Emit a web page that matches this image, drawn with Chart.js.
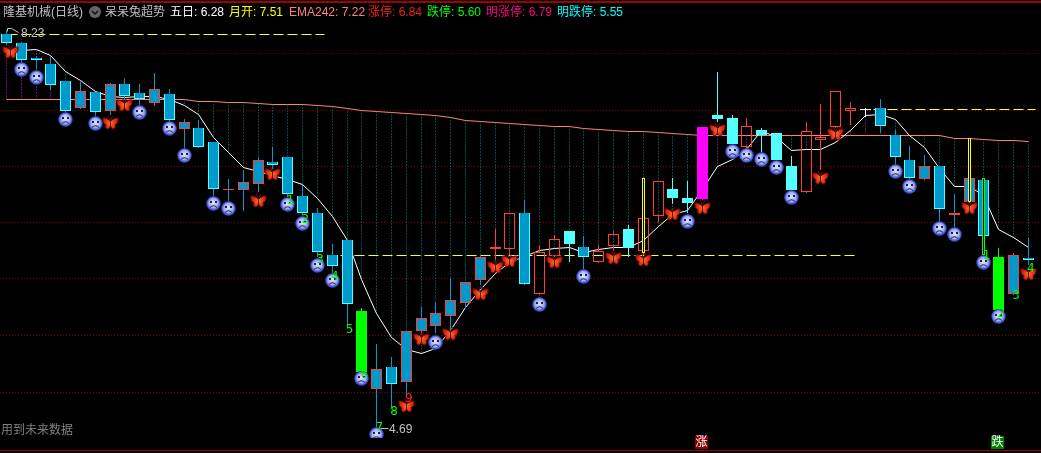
<!DOCTYPE html>
<html>
<head>
<meta charset="utf-8">
<title>隆基机械(日线)</title>
<script src="https://cdn.jsdelivr.net/npm/chart.js@4/dist/chart.umd.min.js"></script>
<style>
  html, body { margin: 0; padding: 0; background: #000; overflow: hidden; }
  #wrap { position: relative; width: 1041px; height: 453px; overflow: hidden; font: 12px "Liberation Sans", "Noto Sans CJK SC", sans-serif; }
  #kline { position: absolute; left: 0; top: 0; }
  .rule { position: absolute; left: 0; width: 1041px; background: #a00000; }
  .txt { position: absolute; white-space: nowrap; line-height: 14px; }
  .tag { position: absolute; width: 13px; height: 13px; line-height: 13px; text-align: center; color: #fff; }
</style>
</head>
<body>
<div id="wrap">
  <canvas id="kline" width="1041" height="453"></canvas>
  <div class="rule" style="top:1px;height:2px"></div>
  <div class="rule" style="top:450px;height:1px"></div>
  <span class="txt" style="left:3px;top:5px;color:#c0c0c0">隆基机械(日线)</span>
  <svg style="position:absolute;left:89px;top:6px" width="12" height="12"><circle cx="6" cy="6" r="6" fill="#666"/><path d="M3 5 L6 8 L9 5" stroke="#111" stroke-width="1.5" fill="none"/></svg>
  <span class="txt" style="left:105px;top:5px;color:#c0c0c0">呆呆兔超势</span>
  <span class="txt" style="left:170px;top:5px;color:#fff">五日: 6.28</span>
  <span class="txt" style="left:229px;top:5px;color:#ff0">月开: 7.51</span>
  <span class="txt" style="left:289px;top:5px;color:#ff8080">EMA242: 7.22</span>
  <span class="txt" style="left:368px;top:5px;color:#f02020">涨停: 6.84</span>
  <span class="txt" style="left:427px;top:5px;color:#0f0">跌停: 5.60</span>
  <span class="txt" style="left:486px;top:5px;color:#ff0080">明涨停: 6.79</span>
  <span class="txt" style="left:557px;top:5px;color:#0ff">明跌停: 5.55</span>
  <span class="txt" style="left:1px;top:423px;color:#808080">用到未来数据</span>
  <span class="tag" style="left:695px;top:436px;background:#8b0000">涨</span>
  <span class="tag" style="left:991px;top:436px;background:#008000">跌</span>
</div>
<script>
// candle kinds, one for each trading day
const kinds = [
  'blue','blue','blue','blue','blue','blueRed','blue','blueRed','blue','blue',
  'blueRed','blue','blueRed','blue','blue','blueRed','blueRed','blueRed','blue','blue',
  'blue','blue','blue','blue','green','blueRed','blue','blueRed','blueRed','blueRed',
  'blueRed','blueRed','blueRed','hollow','hollow','blue','hollow','hollow','cyan','blue',
  'hollow','hollow','cyan','hollow','hollow','cyan','cyan','magenta','cyan','cyan',
  'hollow','cyan','cyan','cyan','hollow','hollow','hollow','hollow','white','blue',
  'blue','blue','blueRed','blue','blueRed','blueRed','blue','green','blueRed','blue'
];
const bodyTops = [
  8.20,8.12,7.98,7.93,7.78,7.69,7.68,7.75,7.75,7.67,
  7.71,7.66,7.41,7.36,7.24,6.82,6.88,7.08,7.06,7.10,
  6.76,6.60,6.23,6.36,5.73,5.22,5.23,5.55,5.67,5.71,
  5.83,5.99,6.21,6.30,6.60,6.60,6.26,6.37,6.44,6.30,
  6.27,6.42,6.46,6.56,6.89,6.82,6.74,7.37,7.48,7.45,
  7.38,7.34,7.32,7.02,7.33,7.28,7.69,7.54,7.53,7.54,
  7.30,7.08,7.02,7.02,6.60,6.92,6.90,6.21,6.23,6.20
];
const bodyBottoms = [
  8.12,7.97,7.97,7.74,7.51,7.54,7.50,7.51,7.65,7.62,
  7.58,7.43,7.35,7.19,6.82,6.81,6.81,6.86,7.03,6.77,
  6.60,6.26,6.13,5.79,5.19,5.04,5.08,5.10,5.55,5.60,
  5.69,5.80,6.01,6.28,6.28,5.97,5.88,6.22,6.33,6.21,
  6.17,6.31,6.29,6.27,6.58,6.74,6.69,6.73,7.44,7.22,
  7.19,7.30,7.08,6.81,6.79,7.25,7.37,7.51,7.52,7.38,
  7.10,6.92,6.91,6.64,6.59,6.70,6.40,5.74,5.88,6.19
];
const highs = [
  8.23,8.13,8.00,8.00,7.78,7.77,7.68,7.76,7.81,7.75,
  7.85,7.71,7.44,7.43,7.24,6.91,6.99,7.10,7.19,7.10,
  6.85,6.65,6.33,6.36,5.76,5.44,5.32,5.55,5.77,5.80,
  6.03,5.99,6.23,6.46,6.60,6.72,6.32,6.41,6.44,6.40,
  6.32,6.44,6.50,6.56,6.89,6.92,6.89,7.37,7.86,7.48,
  7.45,7.36,7.32,7.11,7.41,7.57,7.69,7.59,7.54,7.62,
  7.34,7.20,7.12,7.02,6.77,6.92,6.90,6.29,6.25,6.38
];
const lows = [
  8.10,7.95,7.89,7.70,7.51,7.54,7.47,7.48,7.61,7.56,
  7.56,7.41,7.18,7.19,6.76,6.70,6.62,6.79,7.00,6.75,
  6.59,6.21,6.07,5.59,5.19,4.69,4.87,4.96,5.54,5.54,
  5.56,5.76,5.96,6.19,6.23,5.97,5.88,6.22,6.17,6.11,
  6.17,6.27,6.21,6.23,6.52,6.68,6.60,6.73,7.41,7.22,
  7.19,7.15,7.08,6.81,6.79,6.99,7.37,7.39,7.46,7.32,
  7.04,6.92,6.91,6.53,6.48,6.70,6.40,5.74,5.88,6.14
];
const ma5 = [
  null,8.05,8.06,8.01,7.86,7.78,7.69,7.64,7.63,7.64,
  7.64,7.61,7.56,7.48,7.28,7.14,7.01,6.97,6.94,6.90,
  6.86,6.73,6.57,6.36,6.01,5.71,5.50,5.39,5.35,5.40,
  5.56,5.76,5.92,6.07,6.16,6.22,6.27,6.29,6.30,6.25,
  6.28,6.30,6.30,6.36,6.48,6.59,6.63,6.81,7.02,7.08,
  7.17,7.34,7.28,7.16,7.17,7.17,7.23,7.34,7.47,7.48,
  7.44,7.29,7.19,7.00,6.84,6.84,6.76,6.46,6.39,6.30
];
const ema242 = [
  7.61,7.61,7.61,7.61,7.61,7.61,7.61,7.61,7.61,7.61,
  7.61,7.61,7.61,7.60,7.60,7.59,7.59,7.58,7.57,7.57,
  7.57,7.56,7.55,7.53,7.52,7.51,7.50,7.49,7.48,7.47,
  7.45,7.43,7.42,7.41,7.40,7.39,7.38,7.37,7.37,7.36,
  7.35,7.34,7.33,7.33,7.32,7.31,7.30,7.29,7.29,7.29,
  7.29,7.29,7.29,7.29,7.29,7.29,7.29,7.29,7.29,7.29,
  7.29,7.29,7.29,7.29,7.27,7.27,7.26,7.25,7.25,7.24
];

// signal icons
const faceDays = [1,2,4,6,9,11,12,14,15,19,20,21,22,24,25,29,36,39,46,49,50,51,52,53,60,61,63,64,66,67];
const facePrices = [7.88,7.81,7.44,7.40,7.50,7.36,7.12,6.69,6.64,6.68,6.51,6.14,6.00,5.13,4.63,5.45,5.79,6.04,6.53,7.15,7.12,7.08,7.01,6.74,6.97,6.84,6.47,6.41,6.16,5.68];
const flyDays = [0.27,7,8,17,18,27,28,30,32,33,34,37,41,43,45,47,48,55,56,65,69];
const flyPrices = [8.04,7.41,7.57,6.72,6.96,4.89,5.49,5.53,5.89,6.13,6.18,6.17,6.21,6.19,6.60,6.65,7.35,6.92,7.31,6.65,6.07];

// countdown digits under the candles
const digitDays = [19,20,21,22,23,24,25,26,27,66,67,68,69];
const digitTexts = ['1','2','3','4','5','6','7','8','9','1','2','3','4'];
const digitPrices = [6.71,6.54,6.19,6.04,5.56,5.16,4.69,4.83,4.95,6.22,5.71,5.87,6.11];

// narrow outlined bars
const yellowDays = [43,65];
const yellowTops = [6.92,7.27];
const yellowBottoms = [6.25,6.70];
const limeDays = [66];
const limeTops = [6.92];
const limeBottoms = [6.23];

// dashed price levels
const levelPrices = [8.19,6.23,7.525];
const levelStarts = [0.07,22.55,58.54];
const levelEnds = [21.47,57.46,69.48];

const gridPrices = [8.02,7.52,7.02,6.52,6.02,5.51,5.01];

const highLabel = '8.23';
const lowLabel = '4.69';

const DAY_MIN = -0.405, DAY_MAX = 69.885;
const PRICE_MIN = 4.4683, PRICE_MAX = 8.5;

const BLUE = '#0099cc', CYAN = '#54ffff', RED = '#ff3c3c';
const bodyFill = { blue: BLUE, blueRed: BLUE, cyan: CYAN, hollow: 'rgba(0,0,0,0)', magenta: '#ff00ff', green: '#00ff00', white: '#fff' };
const bodyLine = { blue: CYAN, blueRed: RED, cyan: CYAN, hollow: RED, magenta: '#ff00ff', green: '#00ff00', white: '#fff' };
const wickLine = { blue: BLUE, blueRed: BLUE, cyan: CYAN, hollow: RED, magenta: '#ff00ff', green: '#00ff00', white: '#fff' };
const upKinds = ['blueRed', 'hollow', 'magenta'];

function faceIcon() {
  let c = document.createElement('canvas');
  c.width = 15; c.height = 15;
  let g = c.getContext('2d');
  let r = g.createRadialGradient(7.5, 6.5, 1, 7.5, 7.5, 7.5);
  r.addColorStop(0, '#d8dcff');
  r.addColorStop(0.55, '#a0acf4');
  r.addColorStop(0.85, '#4050c8');
  r.addColorStop(1, '#18246c');
  g.fillStyle = r;
  g.beginPath(); g.arc(7.5, 7.5, 7.4, 0, Math.PI * 2); g.fill();
  g.fillStyle = '#1a2050';
  g.fillRect(4, 5, 2, 2);
  g.fillRect(9, 5, 2, 2);
  g.strokeStyle = '#1a2050';
  g.lineWidth = 1;
  g.beginPath(); g.moveTo(4, 11.5); g.quadraticCurveTo(7.5, 8, 11, 11.5); g.stroke();
  return c;
}

function flyIcon() {
  let c = document.createElement('canvas');
  c.width = 17; c.height = 15;
  let g = c.getContext('2d');
  let r = g.createRadialGradient(8.5, 8, 1, 8.5, 8, 9);
  r.addColorStop(0, '#f06828');
  r.addColorStop(0.55, '#e02c10');
  r.addColorStop(1, '#b01408');
  g.fillStyle = r;
  g.strokeStyle = '#700c04';
  g.lineWidth = 1;
  g.beginPath();
  g.moveTo(8.5, 6);
  g.bezierCurveTo(6, 4, 3, 2.5, 1, 3);
  g.bezierCurveTo(0.5, 6, 1.5, 9, 4, 9.5);
  g.bezierCurveTo(3, 12, 4, 14, 6, 14);
  g.bezierCurveTo(7.5, 13.5, 8, 12, 8.5, 10.5);
  g.bezierCurveTo(9, 12, 9.5, 13.5, 11, 14);
  g.bezierCurveTo(13, 14, 14, 12, 13, 9.5);
  g.bezierCurveTo(15.5, 9, 16.5, 6, 16, 3);
  g.bezierCurveTo(14, 2.5, 11, 4, 8.5, 6);
  g.closePath();
  g.fill();
  g.stroke();
  g.beginPath();
  g.moveTo(8.5, 11); g.lineTo(8.5, 6); g.lineTo(6.5, 1);
  g.moveTo(8.5, 6); g.lineTo(10.5, 1);
  g.stroke();
  return c;
}

function dayPoints(values) {
  return values.map(function(v, i) { return { x: i, y: v }; });
}

function pairPoints(days, values) {
  return days.map(function(d, i) { return { x: d, y: values[i] }; });
}

function rangePoints(days, tops, bottoms) {
  return days.map(function(d, i) { return { x: d, y: [bottoms[i], tops[i]] }; });
}

// ema to ma5 drop lines, split by close above or below the ema
function dropPoints(above) {
  let pts = [];
  kinds.forEach(function(k, i) {
    let close = upKinds.includes(k) ? bodyTops[i] : bodyBottoms[i];
    if ((close > ema242[i]) !== above) return;
    pts.push({ x: i, y: ema242[i] });
    pts.push({ x: i, y: ma5[i] === null ? lows[i] : ma5[i] });
    pts.push({ x: i, y: null });
  });
  return pts;
}

function levelDataset(n) {
  return {
    type: 'line', order: 5, borderColor: '#ffff30', borderWidth: 1, borderDash: [10, 4], pointRadius: 0,
    data: [{ x: levelStarts[n], y: levelPrices[n] }, { x: levelEnds[n], y: levelPrices[n] }]
  };
}

function narrowDataset(days, tops, bottoms, color) {
  return {
    type: 'bar', order: 2, barThickness: 3, borderWidth: 1, borderSkipped: false, inflateAmount: 0, grouped: false,
    borderColor: color, backgroundColor: '#000',
    data: rangePoints(days, tops, bottoms)
  };
}

// keep candles on whole pixels as the terminal draws them
const snapPlugin = {
  id: 'snap',
  afterDatasetsUpdate: function(chart) {
    chart.getSortedVisibleDatasetMetas().forEach(function(meta) {
      meta.data.forEach(function(el) {
        el.x = Math.floor(el.x + 0.4) + 0.5;
        if (meta.type === 'bar') {
          el.y = Math.round(el.y);
          el.base = Math.round(el.base);
          if (el.base === el.y) el.base = el.y + 1;
        } else {
          el.y = Math.floor(el.y) + 0.5;
        }
      });
    });
  }
};

const labelPlugin = {
  id: 'labels',
  afterDatasetsDraw: function(chart) {
    let g = chart.ctx, xs = chart.scales.x, ys = chart.scales.y;
    g.save();
    g.font = '12px "DejaVu Sans"';
    g.textAlign = 'center';
    g.textBaseline = 'middle';
    digitDays.forEach(function(d, i) {
      g.fillStyle = digitTexts[i] === '9' ? '#ff2020' : '#00ff00';
      g.fillText(digitTexts[i], xs.getPixelForValue(d) + 3, ys.getPixelForValue(digitPrices[i]));
    });
    g.font = '12px "Liberation Sans"';
    g.textAlign = 'left';
    g.fillStyle = '#c0c0c0';
    g.fillText(highLabel, xs.getPixelForValue(0.81) + 3, ys.getPixelForValue(8.2));
    g.fillText(lowLabel, xs.getPixelForValue(25.79) + 1, ys.getPixelForValue(4.68));
    g.restore();
  }
};

new Chart(document.getElementById('kline'), {
  type: 'bar',
  data: {
    datasets: [
      { type: 'line', order: 1, showLine: false, pointStyle: faceIcon(), pointRadius: 7, clip: { left: 0, top: 0, right: 0, bottom: -15 }, data: pairPoints(faceDays, facePrices) },
      { type: 'line', order: 1, showLine: false, pointStyle: flyIcon(), pointRadius: 7, data: pairPoints(flyDays, flyPrices) },
      narrowDataset(yellowDays, yellowTops, yellowBottoms, '#ffff00'),
      narrowDataset(limeDays, limeTops, limeBottoms, '#00ff00'),
      {
        type: 'bar', order: 3, barThickness: 11, borderSkipped: false, inflateAmount: 0, grouped: false,
        backgroundColor: kinds.map(function(k) { return bodyFill[k]; }),
        borderColor: kinds.map(function(k) { return bodyLine[k]; }),
        borderWidth: function(ctx) {
          return kinds[ctx.dataIndex] === 'blue' ? { left: 1, right: 1, bottom: 1, top: 0 } : 1;
        },
        data: rangePoints(kinds.map(function(k, i) { return i; }), bodyTops, bodyBottoms)
      },
      {
        type: 'bar', order: 4, barThickness: 1, borderWidth: 0, inflateAmount: 0, grouped: false,
        backgroundColor: kinds.map(function(k) { return wickLine[k]; }),
        data: rangePoints(kinds.map(function(k, i) { return i; }), highs, bodyTops)
      },
      {
        type: 'bar', order: 4, barThickness: 1, borderWidth: 0, inflateAmount: 0, grouped: false,
        backgroundColor: kinds.map(function(k) { return wickLine[k]; }),
        data: rangePoints(kinds.map(function(k, i) { return i; }), bodyBottoms, lows)
      },
      levelDataset(0), levelDataset(1), levelDataset(2),
      { type: 'line', order: 5, borderColor: '#c0c0c0', borderWidth: 1, pointRadius: 0, data: [{ x: 0.07, y: 8.22 }, { x: 0.07, y: 8.25 }, { x: 0.34, y: 8.25 }, { x: 0.81, y: 8.21 }] },
      { type: 'line', order: 5, borderColor: '#c0c0c0', borderWidth: 1, pointRadius: 0, data: [{ x: 24.98, y: 4.66 }, { x: 24.98, y: 4.69 }, { x: 25.79, y: 4.69 }] },
      { type: 'line', order: 6, borderColor: '#ffffff', borderWidth: 1, pointRadius: 0, data: dayPoints(ma5) },
      { type: 'line', order: 7, borderColor: '#ff8080', borderWidth: 1, pointRadius: 0, data: dayPoints(ema242) },
      { type: 'line', order: 8, borderColor: '#c030c0', borderWidth: 1, borderDash: [1, 2], pointRadius: 0, spanGaps: false, data: dropPoints(true) },
      { type: 'line', order: 8, borderColor: '#009898', borderWidth: 1, borderDash: [1, 2], pointRadius: 0, spanGaps: false, data: dropPoints(false) }
    ]
  },
  options: {
    responsive: false,
    animation: false,
    devicePixelRatio: 1,
    events: [],
    layout: { padding: 0, autoPadding: false },
    plugins: { legend: { display: false }, tooltip: { enabled: false } },
    scales: {
      x: { type: 'linear', display: false, offset: false, min: DAY_MIN, max: DAY_MAX, grid: { offset: false } },
      y: {
        type: 'linear', min: PRICE_MIN, max: PRICE_MAX,
        afterBuildTicks: function(axis) { axis.ticks = gridPrices.map(function(v) { return { value: v }; }); },
        afterFit: function(axis) { axis.width = 0; },
        ticks: { display: false },
        border: { display: false, dash: [1, 2] },
        grid: { color: '#8b0000', lineWidth: 1, drawTicks: false }
      }
    }
  },
  plugins: [snapPlugin, labelPlugin]
});
</script>
</body>
</html>
